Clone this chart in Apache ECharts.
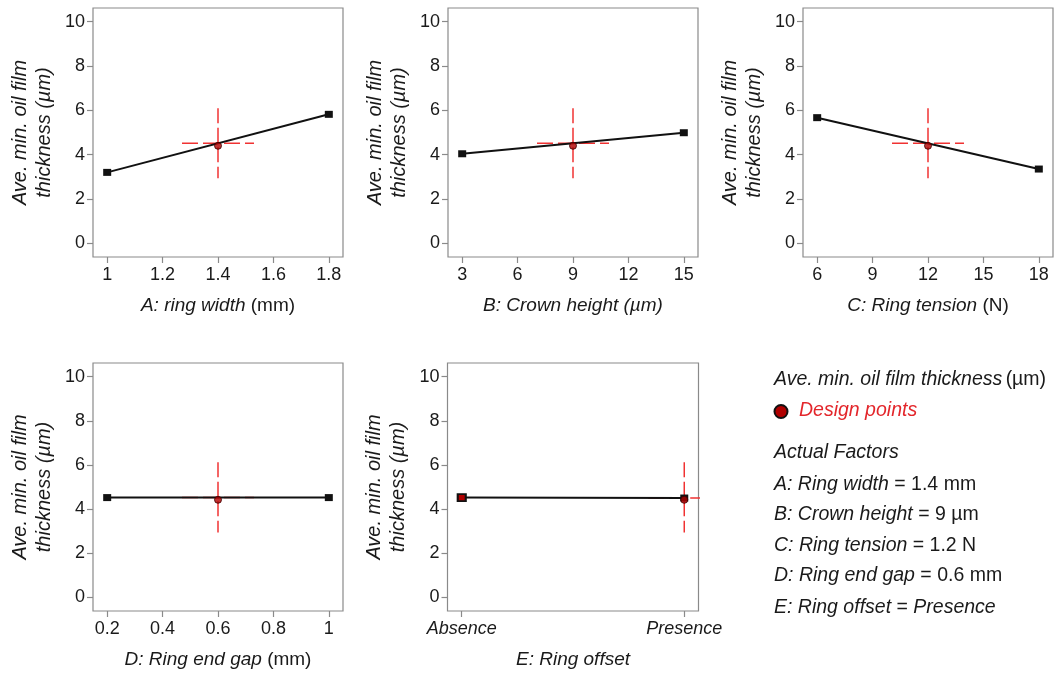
<!DOCTYPE html>
<html>
<head>
<meta charset="utf-8">
<script src="https://cdn.jsdelivr.net/npm/echarts@6/dist/echarts.min.js"></script>
<style>
html,body{margin:0;padding:0;background:#fff;}
#main{width:1059px;height:675px;}
</style>
</head>
<body>
<div id="main"></div>
<script>
// ---------------- data ----------------
const yTicks = [0, 2, 4, 6, 8, 10];
const aTicks = [1, 1.2, 1.4, 1.6, 1.8];
const bTicks = [3, 6, 9, 12, 15];
const cTicks = [6, 9, 12, 15, 18];
const dTicks = [0.2, 0.4, 0.6, 0.8, 1];
const eCategories = ['Absence', 'Presence'];

const aEnds = [[1, 3.2], [1.8, 5.82]];
const bEnds = [[3, 4.04], [15, 4.99]];
const cEnds = [[6, 5.67], [18, 3.35]];
const dEnds = [[0.2, 4.52], [1, 4.52]];
const eEnds = [4.52, 4.50];

const centerX = [1.4, 9, 12, 0.6, 1];            // E: index of "Presence"
const centerPredicted = [4.51, 4.51, 4.51, 4.52, 4.50];
const designPointY = [4.4, 4.4, 4.4, 4.42, 4.42];
const lsdLow = [2.93, 2.93, 2.93, 2.94, 2.94];
const lsdHigh = [6.09, 6.09, 6.09, 6.12, 6.12];
const lsdHalfWidth = [0.13, 1.95, 1.95, 0.13, 0.162];

const xTitles = [
  '{i|A: ring width} {n|(mm)}',
  '{i|B: Crown height (µm)}',
  '{i|C: Ring tension} {n|(N)}',
  '{i|D: Ring end gap} {n|(mm)}',
  '{i|E: Ring offset}'
];
const yTitle = 'Ave. min. oil film\nthickness (µm)';

const legendTitle = ['Ave. min. oil film thickness', '(µm)'];
const legendDesign = 'Design points';
const actualFactorsTitle = 'Actual Factors';
const actualFactors = [
  ['A: Ring width', ' = 1.4 mm', ''],
  ['B: Crown height', ' = 9 µm', ''],
  ['C: Ring tension', ' = 1.2 N', ''],
  ['D: Ring end gap', ' = 0.6 mm', ''],
  ['E: Ring offset', ' = ', 'Presence']
];

// ---------------- layout ----------------
const FONT = "'Liberation Sans', Arial, sans-serif";
const TXT = '#1a1a1a';
const FRAME = '#8a8a8a';
const RED = '#f03232';
const TITLE_FS = 19;
const LEG_FS = 19.5;

const gridsPos = [
  {left: 93, top: 8, width: 250, height: 249},
  {left: 448, top: 8, width: 250, height: 249},
  {left: 803, top: 8, width: 250, height: 249},
  {left: 93, top: 363, width: 250, height: 248},
  {left: 447.5, top: 363, width: 251, height: 248}
];
const tickSets = [aTicks, bTicks, cTicks, dTicks, [0, 1]];
const endSets = [aEnds, bEnds, cEnds, dEnds, eEnds.map((v, i) => [i, v])];

const grids = [], xAxes = [], yAxes = [], series = [];
const PAD = 0.064;
const yPad = 0.062 * (yTicks[yTicks.length - 1] - yTicks[0]);

gridsPos.forEach((g, k) => {
  grids.push(Object.assign({show: true, borderColor: FRAME, borderWidth: 1.2, backgroundColor: 'transparent'}, g));
  const t = tickSets[k];
  const span = t[t.length - 1] - t[0];
  const isE = k === 4;
  xAxes.push({
    type: 'value', gridIndex: k, position: 'bottom',
    min: t[0] - PAD * span, max: t[t.length - 1] + PAD * span,
    splitLine: {show: false},
    axisLine: {show: false, onZero: false},
    axisTick: {show: true, inside: false, length: 6, customValues: t, lineStyle: {color: FRAME, width: 1.2}},
    axisLabel: {
      customValues: t, margin: 9, fontSize: 18, fontFamily: FONT, color: TXT,
      fontStyle: isE ? 'italic' : 'normal',
      formatter: isE ? (v => eCategories[Math.round(v)]) : (v => String(+v.toFixed(3)))
    },
    name: xTitles[k], nameLocation: 'middle', nameGap: 38,
    nameTextStyle: {
      fontSize: TITLE_FS, fontFamily: FONT, color: TXT,
      rich: {
        i: {fontStyle: 'italic', fontSize: TITLE_FS, fontFamily: FONT, color: TXT, lineHeight: 22},
        n: {fontStyle: 'normal', fontSize: TITLE_FS, fontFamily: FONT, color: TXT, lineHeight: 22}
      }
    }
  });
  yAxes.push({
    type: 'value', gridIndex: k, position: 'left',
    min: yTicks[0] - yPad, max: yTicks[yTicks.length - 1] + yPad,
    splitLine: {show: false},
    axisLine: {show: false, onZero: false},
    axisTick: {show: true, inside: false, length: 6, customValues: yTicks, lineStyle: {color: FRAME, width: 1.2}},
    axisLabel: {customValues: yTicks, margin: 8, fontSize: 18, fontFamily: FONT, color: TXT},
    name: yTitle, nameLocation: 'middle', nameRotate: 90, nameGap: 37,
    nameTextStyle: {fontSize: 20, fontFamily: FONT, fontStyle: 'italic', color: TXT, lineHeight: 24}
  });

  const cx = centerX[k], cy = centerPredicted[k];
  // LSD vertical (drawn from the top down)
  series.push({
    type: 'line', xAxisIndex: k, yAxisIndex: k, symbol: 'none', silent: true, z: 2,
    data: [[cx, lsdHigh[k]], [cx, lsdLow[k]]],
    lineStyle: {color: RED, width: 1.5, type: [15, 4.5]}
  });
  // LSD horizontal
  series.push({
    type: 'line', xAxisIndex: k, yAxisIndex: k, symbol: 'none', silent: true, z: 2,
    data: [[cx - lsdHalfWidth[k], cy], [cx + lsdHalfWidth[k], cy]],
    lineStyle: {color: RED, width: 1.5, type: [16, 5]}
  });
  // effect line
  series.push({
    type: 'line', xAxisIndex: k, yAxisIndex: k, z: 3, silent: true,
    data: endSets[k].map((p, i) => ({
      value: p,
      itemStyle: (isE && i === 0) ? {color: '#b00000', borderColor: '#111', borderWidth: 2} : {color: '#111'}
    })),
    symbol: 'rect', symbolSize: [8, 7], showSymbol: true,
    lineStyle: {color: '#111', width: 2},
    itemStyle: {color: '#111'}
  });
  // design point
  series.push({
    type: 'scatter', xAxisIndex: k, yAxisIndex: k, z: 5, silent: true,
    data: [[cx, designPointY[k]]],
    symbol: 'circle', symbolSize: 7,
    itemStyle: {color: '#b00000', borderColor: '#3a0000', borderWidth: 1}
  });
});

// ---------------- legend / factors text ----------------
const LX = 774;
const richLeg = {
  i: {fontStyle: 'italic', fontSize: LEG_FS, fontFamily: FONT, fill: TXT},
  n: {fontSize: LEG_FS, fontFamily: FONT, fill: TXT}
};
const graphic = [
  {type: 'text', left: LX, top: 381 - 11, style: {
    rich: richLeg,
    text: '{i|' + legendTitle[0] + '} {n|' + legendTitle[1] + '}'
  }},
  {type: 'circle', shape: {cx: 781, cy: 411.5, r: 6.5},
    style: {fill: '#b00000', stroke: '#111', lineWidth: 2}},
  {type: 'text', left: 799, top: 411.5 - 11, style: {
    text: legendDesign, font: 'italic ' + LEG_FS + 'px ' + FONT, fill: '#e3262b'
  }},
  {type: 'text', left: LX, top: 454 - 11, style: {
    text: actualFactorsTitle, font: 'italic ' + LEG_FS + 'px ' + FONT, fill: TXT
  }}
];
const rowY = [486, 516, 547, 577, 608.5];
actualFactors.forEach((f, i) => {
  graphic.push({type: 'text', left: LX, top: rowY[i] - 11, style: {
    rich: richLeg,
    text: '{i|' + f[0] + '}{n|' + f[1] + '}' + (f[2] ? '{i|' + f[2] + '}' : '')
  }});
});

const chart = echarts.init(document.getElementById('main'), null, {renderer: 'canvas'});
chart.setOption({
  backgroundColor: '#fff',
  animation: false,
  grid: grids,
  xAxis: xAxes,
  yAxis: yAxes,
  series: series,
  graphic: graphic
});
</script>
</body>
</html>
